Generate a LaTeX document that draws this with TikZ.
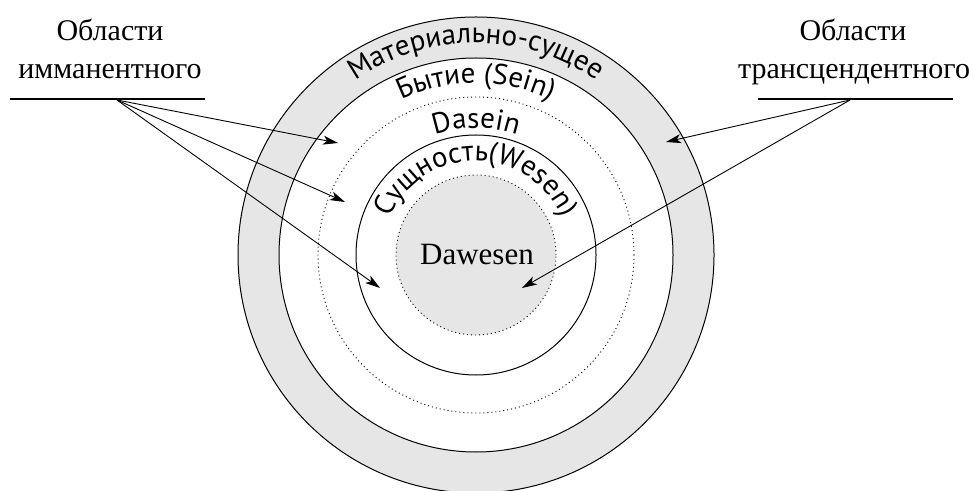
\documentclass[tikz,border=0pt]{standalone}
\usepackage{fontspec}
\setmainfont{Liberation Serif}
\newfontfamily\arcfont{PT Sans}
\usetikzlibrary{arrows.meta,decorations.text}
\definecolor{ringgray}{HTML}{E6E6E6}

\begin{document}
\begin{tikzpicture}[x=1pt, y=1pt,
    pointer/.style={-{Stealth[length=15pt, width=9pt, inset=4pt]}, line width=0.9pt},
    dotring/.style={dash pattern=on 1pt off 3pt, line width=0.9pt},
    plainring/.style={draw=black, line width=1pt},
    label/.style={font=\fontsize{30}{34}\selectfont, anchor=base},
    arclabel/.style={decorate, decoration={text along path, text align=center,
        text={|\arcfont\fontsize{29}{32}\selectfont|#1}}}]
    \useasboundingbox (0,0) rectangle (973,490);
    \coordinate (O) at (476,235);

    \fill[ringgray, plainring] (O) circle[radius=238];
    \fill[white, plainring] (O) circle[radius=197];
    \draw[dotring] (O) circle[radius=158];
    \draw[plainring] (O) circle[radius=120];
    \fill[ringgray] (O) circle[radius=80];
    \draw[dotring] (O) circle[radius=80];

    \path[arclabel={Материально-сущее}] ([shift={(O)}]150:212) arc[start angle=150, end angle=30, radius=212];
    \path[arclabel={Бытие (Sein)}] ([shift={(O)}]160:172) arc[start angle=160, end angle=20, radius=172];
    \path[arclabel={Dasein}] ([shift={(O)}]150:127) arc[start angle=150, end angle=30, radius=127];
    \path[arclabel={Сущность(Wesen)}] ([shift={(O)}]190:94) arc[start angle=190, end angle=-10, radius=94];

    \node[label, font=\fontsize{31}{34}\selectfont] (dawesen) at (477,225) {Dawesen};

    \node[label] (immA) at (110,449) {Области};
    \node[label] (immB) at (110,411) {имманентного};
    \node[label] (transA) at (853,449) {Области};
    \node[label] (transB) at (854,411) {трансцендентного};

    \coordinate (immL) at (10,391);
    \coordinate (immR) at (205,391);
    \coordinate (transL) at (758,391);
    \coordinate (transR) at (953,391);
    \draw[line width=2pt] (immL) -- (immR);
    \draw[line width=2pt] (transL) -- (transR);

    \coordinate (immHub) at (117,390);
    \coordinate (transHub) at (850,390);
    \coordinate (inSein) at (338,347);
    \coordinate (inDasein) at (345,288);
    \coordinate (inWesen) at (380,202);
    \coordinate (inMat) at (666,348);
    \coordinate (inDawesen) at (522,202);

    \draw[pointer] (immHub) -- (inSein);
    \draw[pointer] (immHub) -- (inDasein);
    \draw[pointer] (immHub) -- (inWesen);
    \draw[pointer] (transHub) -- (inMat);
    \draw[pointer] (transHub) -- (inDawesen);
  \end{tikzpicture}
\end{document}
